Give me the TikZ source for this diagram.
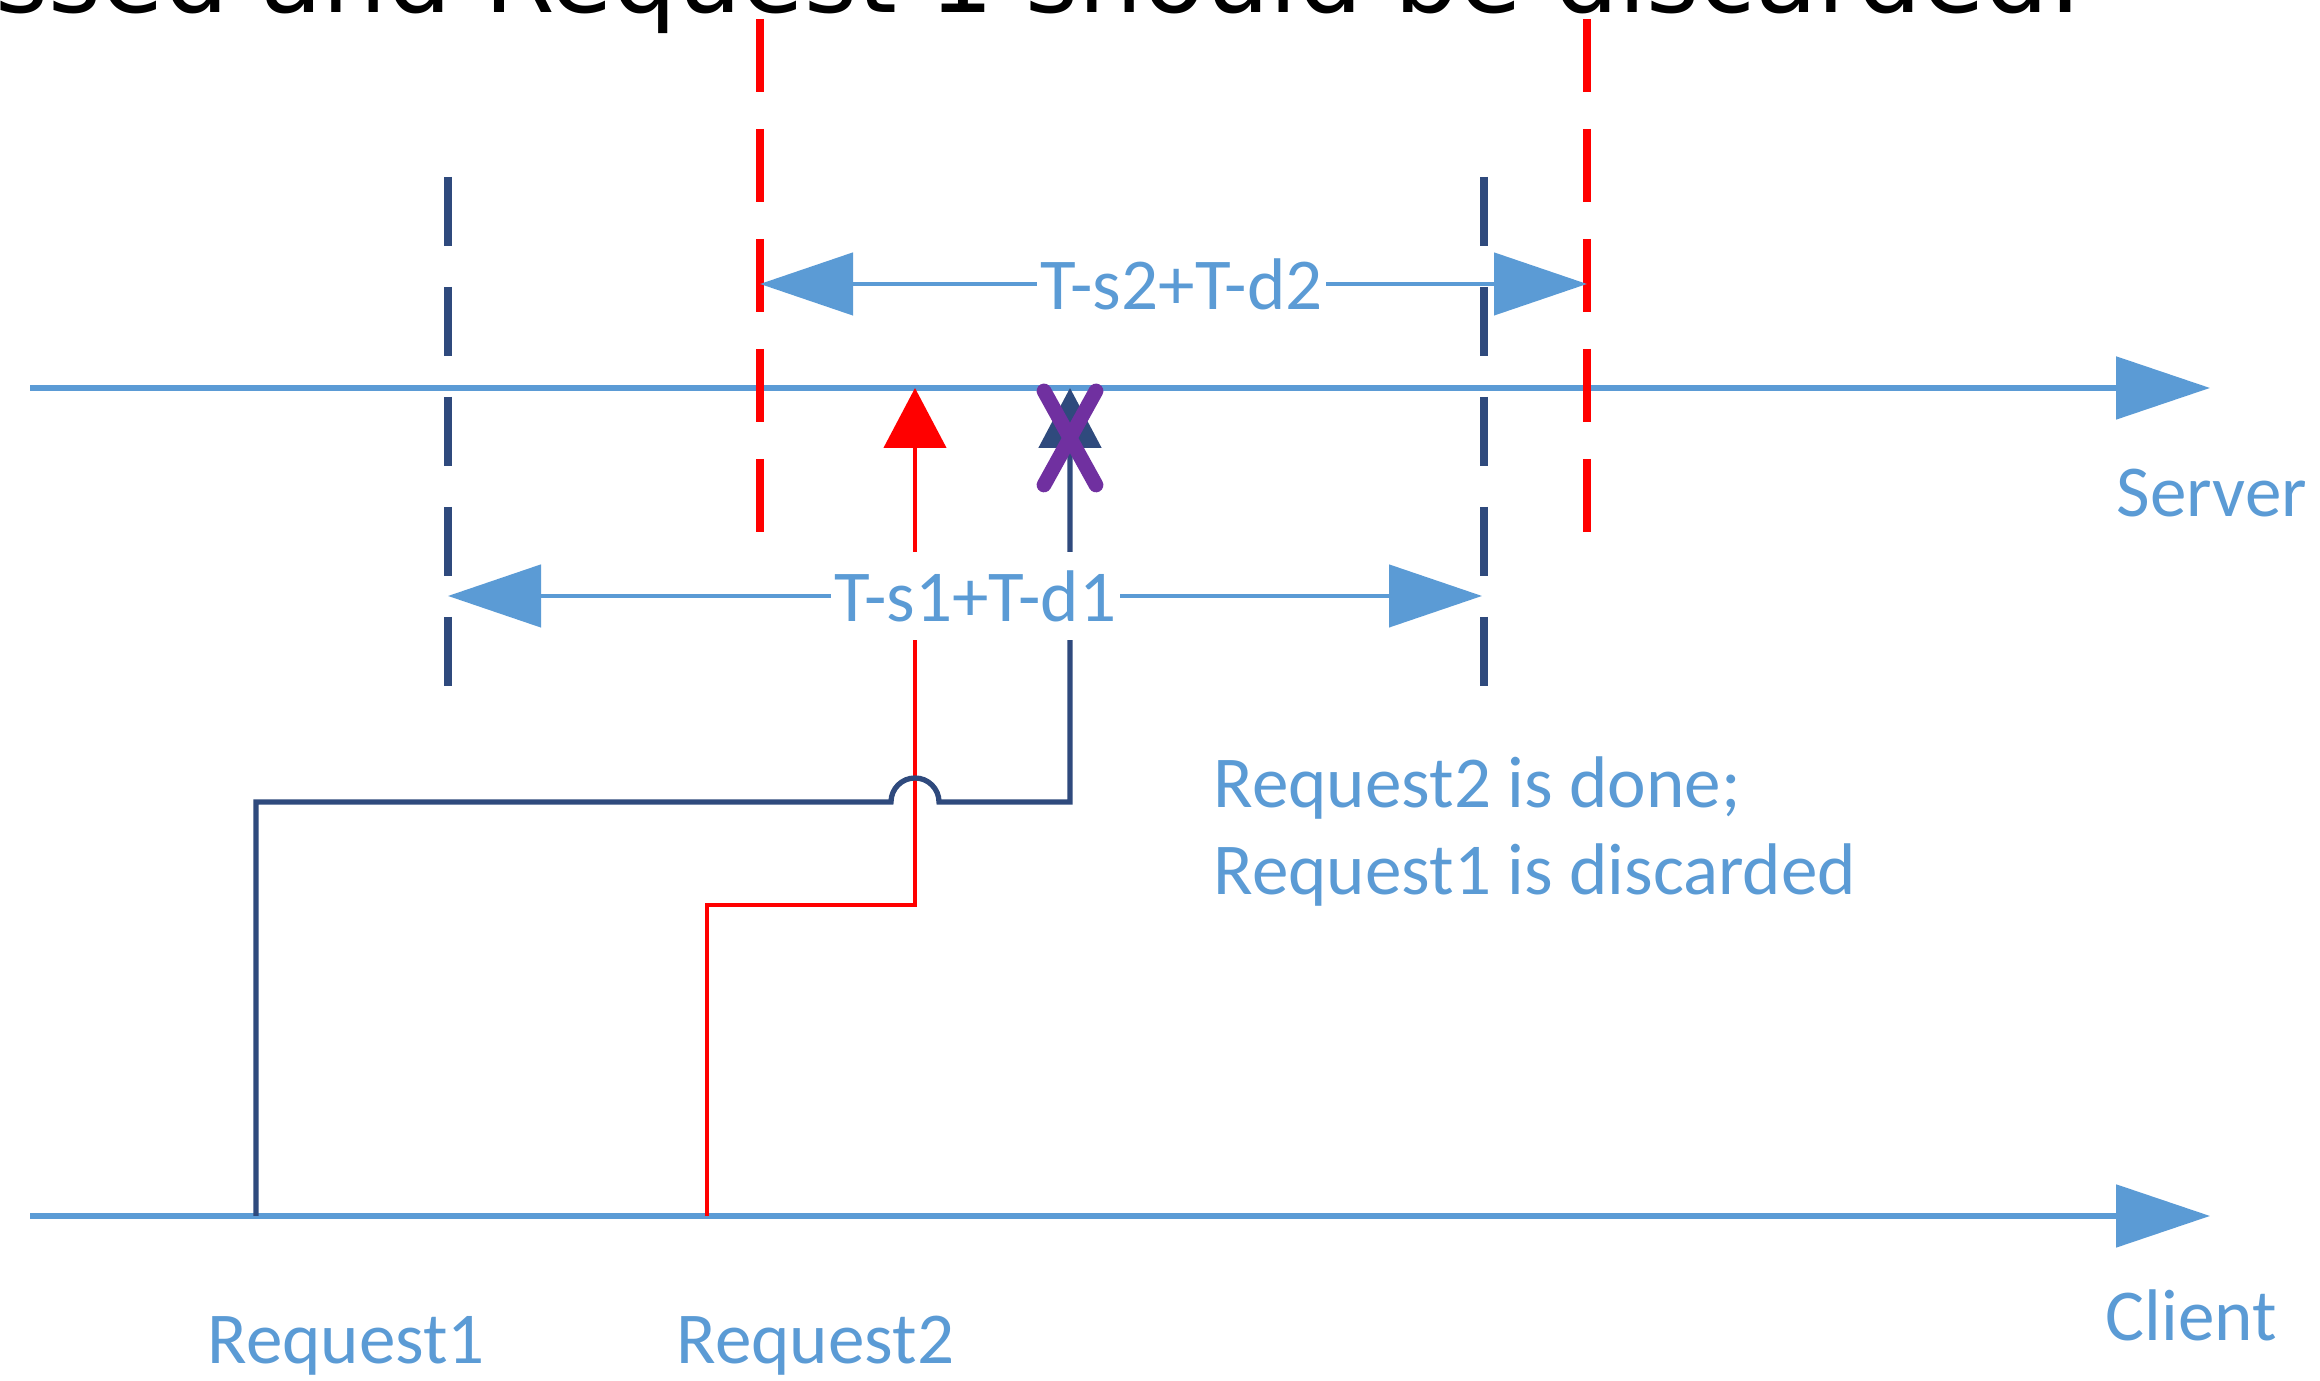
\documentclass[tikz,border=0pt]{standalone}
\usepackage{fontspec}
\setmainfont{Carlito}
\newfontfamily\headfont{DejaVu Sans}
\usetikzlibrary{arrows.meta, positioning, calc}

\definecolor{lineblue}{HTML}{5B9BD5}
\definecolor{navy}{HTML}{2F4A7D}
\definecolor{dropviolet}{HTML}{7030A0}

\begin{document}
\begin{tikzpicture}[
    >=Stealth,
    axis/.style={draw=lineblue, line width=1.5pt, -{Triangle[length=0.94cm, width=0.62cm]}},
    bound/.style={draw=navy, line width=2pt, dash pattern=on 0.69cm off 0.41cm},
    window/.style={draw=red, line width=2pt, dash pattern=on 0.73cm off 0.37cm},
    span/.style={draw=lineblue, line width=1.3pt, {Triangle[length=0.93cm, width=0.62cm]}-{Triangle[length=0.93cm, width=0.62cm]}},
    req1/.style={draw=navy, line width=1.5pt, -{Triangle[length=0.6cm, width=0.62cm]}},
    req2/.style={draw=red, line width=1.3pt, -{Triangle[length=0.6cm, width=0.62cm]}},
    cross/.style={draw=dropviolet, line width=4.2pt, line cap=round},
    lbl/.style={text=lineblue, font=\fontsize{20.8}{25}\selectfont, inner sep=0pt},
    tag/.style={lbl, fill=white, inner xsep=1pt, minimum height=0.88cm}
]

\fill[white] (0, 0) rectangle (23.2, 13.81);
\useasboundingbox (0, 0) rectangle (23.2, 13.81);
\clip (0, 0) rectangle (23.2, 13.81);

\node (Caption) at (-0.05, 13.68) [anchor=base west, inner sep=0pt, font=\headfont\fontsize{28.9}{34}\selectfont] {ssed and Request 1 should be discarded.};

% server and client time lines
\coordinate (S0) at (0.3, 9.93);
\coordinate (S1) at (22.1, 9.93);
\coordinate (C0) at (0.3, 1.65);
\coordinate (C1) at (22.1, 1.65);
\draw[axis] (S0) -- (S1);
\draw[axis] (C0) -- (C1);

% timeout bounds
\coordinate (B1top) at (4.48, 12.04);
\coordinate (B1bot) at (4.48, 6.95);
\coordinate (B2top) at (14.84, 12.04);
\coordinate (B2bot) at (14.84, 6.95);
\coordinate (W1top) at (7.60, 13.62);
\coordinate (W1bot) at (7.60, 8.49);
\coordinate (W2top) at (15.87, 13.62);
\coordinate (W2bot) at (15.87, 8.49);
\draw[bound] (B1top) -- (B1bot);
\draw[bound] (B2top) -- (B2bot);
\draw[window] (W1top) -- (W1bot);
\draw[window] (W2top) -- (W2bot);

% requests
\coordinate (Q1) at (2.56, 1.65);
\coordinate (Q2) at (7.07, 1.65);
\coordinate (H1) at (10.70, 9.93);
\coordinate (H2) at (9.15, 9.93);
\draw[req2] (Q2) -- ++(0, 3.11) -| (H2);
\draw[req1] (Q1) -- ++(0, 4.14) -- ++(6.35, 0) arc[start angle=180, end angle=0, radius=0.24] -| (H1);

\coordinate (Drop) at (10.70, 9.43);
\draw[cross] ($(Drop)+(-0.26, 0.47)$) -- ($(Drop)+(0.26, -0.47)$);
\draw[cross] ($(Drop)+(0.26, 0.47)$) -- ($(Drop)+(-0.26, -0.47)$);

% windows
\coordinate (T2a) at (7.60, 10.97);
\coordinate (T2b) at (15.87, 10.97);
\coordinate (T1a) at (4.48, 7.85);
\coordinate (T1b) at (14.82, 7.85);
\draw[span] (T2a) -- node (Span2) [tag, pos=0.51] {T-s2+T-d2} (T2b);
\draw[span] (T1a) -- node (Span1) [tag, pos=0.51] {T-s1+T-d1} (T1b);

\node (Server) at (21.16, 8.64) [lbl, anchor=base west] {Server};
\node (Client) at (21.05, 0.40) [lbl, anchor=base west] {Client};
\node (Req1) at (2.07, 0.17) [lbl, anchor=base west] {Request1};
\node (Req2) at (6.76, 0.17) [lbl, anchor=base west] {Request2};
\node (Note) at (12.13, 4.86) [lbl, anchor=base west, align=left] {Request2 is done;\\Request1 is discarded};

\end{tikzpicture}
\end{document}
